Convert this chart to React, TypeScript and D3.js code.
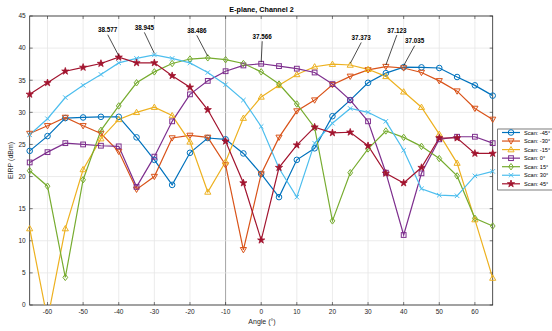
import React from "react";
import * as d3 from "d3";

const angles = [-65,-60,-55,-50,-45,-40,-35,-30,-25,-20,-15,-10,-5,0,5,10,15,20,25,30,35,40,45,50,55,60,65];
const scanM45 = [24.0,26.3,29.1,29.2,29.3,29.3,26.1,22.6,18.7,23.7,26.0,25.8,23.6,20.4,16.8,22.6,24.4,29.4,31.9,34.6,36.1,37.035,37.0,36.9,35.5,34.2,32.6];
const scanM30 = [26.7,27.9,29.2,27.9,26.7,23.9,18.0,20.0,26.0,26.4,26.1,21.8,8.6,20.4,26.1,30.2,31.9,34.3,35.6,36.6,37.123,36.9,36.2,34.9,33.3,30.6,28.9];
const scanM15 = [11.9,-2.3,11.9,21.1,25.9,28.9,30.0,30.8,29.5,25.4,17.6,22.3,29.1,32.4,34.2,35.9,37.1,37.5,37.373,36.7,35.6,33.2,30.8,26.6,22.1,13.3,4.2];
const scan0 = [22.2,23.8,25.2,25.0,24.8,24.7,18.4,23.1,28.6,32.8,34.9,36.4,37.3,37.566,37.2,36.8,36.2,34.4,31.9,28.6,20.6,10.9,20.5,25.8,26.2,26.2,25.2];
const scan15 = [20.9,18.5,4.3,19.5,27.2,31.0,34.6,36.3,37.6,38.3,38.486,38.2,37.6,36.3,34.4,31.3,27.6,13.1,20.6,24.3,27.1,26.1,24.7,22.8,20.1,13.5,12.3];
const scan30 = [26.5,29.0,32.3,34.2,35.9,37.7,38.4,38.945,38.4,37.7,36.2,34.3,31.9,27.8,21.3,16.8,25.2,28.3,30.6,30.0,28.6,24.1,18.1,17.1,17.0,20.1,20.8];
const scan45 = [32.8,34.6,36.4,37.0,37.6,38.577,37.7,37.7,35.7,33.9,30.4,25.5,19.0,10.1,21.4,24.9,27.7,26.8,26.9,24.8,20.5,19.0,21.4,26.0,26.0,23.6,23.6];

const seriesNames = ["Scan: -45°","Scan: -30°","Scan: -15°","Scan: 0°","Scan: 15°","Scan: 30°","Scan: 45°"];
const seriesData = [scanM45, scanM30, scanM15, scan0, scan15, scan30, scan45];
const colors = ["#0072BD","#D95319","#EDB120","#7E2F8E","#77AC30","#4DBEEE","#A2142F"];
const markers = ["o","v","^","s","d","x","p"];

const xTicks = [-60,-50,-40,-30,-20,-10,0,10,20,30,40,50,60];
const yTicks = [0,5,10,15,20,25,30,35,40,45];

const peakAngles = [-40,-30,-15,0,25,35,40];
const peakValues = [38.577,38.945,38.486,37.566,37.373,37.123,37.035];
const peakLabels = ["38.577","38.945","38.486","37.566","37.373","37.123","37.035"];
const labelDx = [-11,-10,-11,1,11,11,11];
const labelDy = [-25,-25,-25,-25,-25,-34,-24];

const W = 552, H = 331;
const L = 29.7, R = 492.7, T = 16, B = 305;

function Marker({ type, x, y, color }: { type: string; x: number; y: number; color: string }) {
  const s = 2.8;
  const common = { fill: "none", stroke: color, strokeWidth: 1 };
  switch (type) {
    case "o":
      return <circle cx={x} cy={y} r={s} {...common} />;
    case "v":
      return <path d={`M${x - s * 1.1},${y - s * 0.8}L${x + s * 1.1},${y - s * 0.8}L${x},${y + s * 1.1}Z`} {...common} />;
    case "^":
      return <path d={`M${x - s * 1.1},${y + s * 0.8}L${x + s * 1.1},${y + s * 0.8}L${x},${y - s * 1.1}Z`} {...common} />;
    case "s":
      return <rect x={x - s * 0.85} y={y - s * 0.85} width={s * 1.7} height={s * 1.7} {...common} />;
    case "d":
      return <path d={`M${x},${y - s * 1.15}L${x + s * 0.85},${y}L${x},${y + s * 1.15}L${x - s * 0.85},${y}Z`} {...common} />;
    case "x":
      return <path d={`M${x - s * 0.8},${y - s * 0.8}L${x + s * 0.8},${y + s * 0.8}M${x - s * 0.8},${y + s * 0.8}L${x + s * 0.8},${y - s * 0.8}`} {...common} />;
    case "p": {
      const star = d3.symbol(d3.symbolStar, 16)();
      return <path d={star as string} transform={`translate(${x},${y})`} fill={color} stroke={color} strokeWidth={0.8} strokeLinejoin="round" />;
    }
  }
  return null;
}

export default function App() {
  const x = d3.scaleLinear().domain([-65, 65]).range([L, R]);
  const y = d3.scaleLinear().domain([0, 45]).range([B, T]);
  const line = d3.line<number>().x((_, i) => x(angles[i])).y((v) => y(v));
  const font = "'Liberation Sans', Arial, sans-serif";

  return (
    <div style={{ position: "fixed", left: 0, top: 0 }}>
      <svg width={W} height={H} style={{ display: "block", background: "#fff" }} fontFamily={font}>
        <defs>
          <clipPath id="plotclip">
            <rect x={L} y={T} width={R - L} height={B - T} />
          </clipPath>
        </defs>
        {xTicks.map((t) => (
          <line key={"gx" + t} x1={x(t)} x2={x(t)} y1={T} y2={B} stroke={t === -10 ? "#9a9a9a" : "#e6e6e6"} strokeWidth={t === -10 ? 0.9 : 0.8} />
        ))}
        {yTicks.map((t) => (
          <line key={"gy" + t} x1={L} x2={R} y1={y(t)} y2={y(t)} stroke="#e6e6e6" strokeWidth={0.8} />
        ))}
        <rect x={L} y={T} width={R - L} height={B - T} fill="none" stroke="#262626" strokeWidth={0.8} />
        {xTicks.map((t) => (
          <g key={"tx" + t}>
            <line x1={x(t)} x2={x(t)} y1={B} y2={B - 3} stroke="#262626" strokeWidth={0.6} />
            <line x1={x(t)} x2={x(t)} y1={T} y2={T + 3} stroke="#262626" strokeWidth={0.6} />
            <text x={x(t)} y={B + 9} fontSize={6.5} textAnchor="middle" fill="#262626">{t}</text>
          </g>
        ))}
        {yTicks.map((t) => (
          <g key={"ty" + t}>
            <line x1={L} x2={L + 3} y1={y(t)} y2={y(t)} stroke="#262626" strokeWidth={0.6} />
            <line x1={R} x2={R - 3} y1={y(t)} y2={y(t)} stroke="#262626" strokeWidth={0.6} />
            <text x={L - 4} y={y(t) + 2.3} fontSize={6.5} textAnchor="end" fill="#262626">{t}</text>
          </g>
        ))}
        <text x={262} y={324} fontSize={7} textAnchor="middle" fill="#262626">Angle (°)</text>
        <text transform={`translate(13,${(T + B) / 2}) rotate(-90)`} fontSize={7} textAnchor="middle" fill="#262626">EIRP (dBm)</text>
        <text x={261.5} y={12} fontSize={7.2} fontWeight="bold" textAnchor="middle" fill="#000">E-plane, Channel 2</text>

        <g clipPath="url(#plotclip)">
          {seriesData.map((s, k) => (
            <path key={"l" + k} d={line(s) as string} fill="none" stroke={colors[k]} strokeWidth={1.2} />
          ))}
        </g>
        {seriesData.map((s, k) => (
          <g key={"m" + k}>
            {s.map((v, i) =>
              v >= 0 && v <= 45 ? <Marker key={i} type={markers[k]} x={x(angles[i])} y={y(v)} color={colors[k]} /> : null
            )}
          </g>
        ))}

        {peakAngles.map((a, i) => {
          const px = x(a), py = y(peakValues[i]);
          const lx = px + labelDx[i], ly = py + labelDy[i];
          return (
            <g key={"a" + i}>
              <line x1={lx} y1={ly + 2.5} x2={px} y2={py - 1.5} stroke="#000" strokeWidth={0.7} />
              <text x={lx} y={ly} fontSize={6.3} fontWeight="bold" textAnchor="middle" fill="#000">{peakLabels[i]}</text>
            </g>
          );
        })}

        <g>
          <rect x={497.7} y={129} width={60} height={61} fill="#fff" stroke="#262626" strokeWidth={0.6} />
          {seriesNames.map((n, k) => {
            const ly = 132.5 + k * 8.55;
            return (
              <g key={"lg" + k}>
                <line x1={502} x2={520} y1={ly} y2={ly} stroke={colors[k]} strokeWidth={1.2} />
                <Marker type={markers[k]} x={511} y={ly} color={colors[k]} />
                <text x={524} y={ly + 2} fontSize={5.6} fill="#000">{n}</text>
              </g>
            );
          })}
        </g>
      </svg>
    </div>
  );
}
